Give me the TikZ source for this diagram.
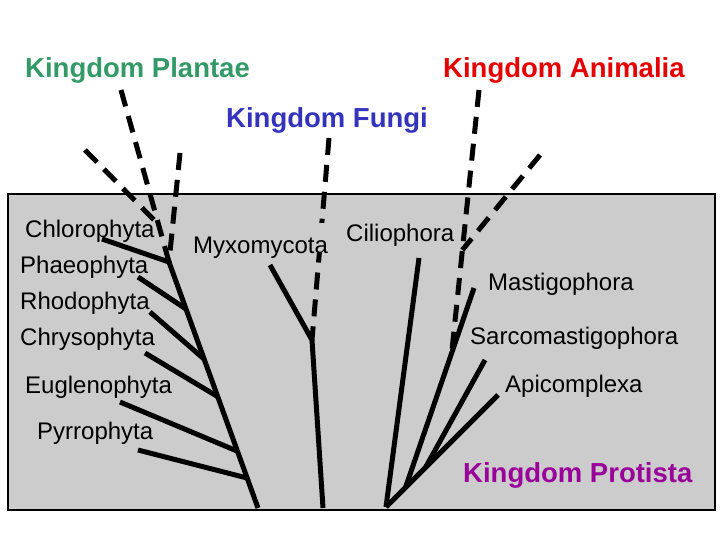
\documentclass[tikz,border=0pt]{standalone}
\usepackage{fontspec}
\setmainfont{Liberation Sans}
\definecolor{plantgreen}{RGB}{51,153,102}
\definecolor{animred}{RGB}{228,0,0}
\definecolor{fungiblue}{RGB}{51,51,187}
\definecolor{protpurple}{RGB}{153,0,153}
\definecolor{boxgray}{RGB}{204,204,204}
\begin{document}
\begin{tikzpicture}[x=1pt,y=-1pt,
  lbl/.style={anchor=base west,inner sep=0pt,font=\fontsize{24}{28}\selectfont},
  kingdom/.style={anchor=base west,inner sep=0pt,font=\fontsize{27.5}{32}\selectfont\bfseries},
  solidln/.style={line width=5pt},
  dashln/.style={line width=5pt,dash pattern=on 17pt off 10pt}]
\useasboundingbox (0,0) rectangle (720,540);
\node[draw=black,line width=2pt,fill=boxgray,minimum width=707pt,minimum height=316pt,
      anchor=north west,inner sep=0pt] (box) at (7,193) {};

% ---- coordinates: Plantae group
\coordinate (pT) at (121,90);
\coordinate (pD) at (85,150);
\coordinate (pJ) at (159,225);
\coordinate (pR) at (180,153);
\coordinate (P)  at (169,262);
\coordinate (pB) at (258,508);
\coordinate (chlS) at (102,239);
\coordinate (phaS) at (138,277);  \coordinate (phaE) at (186,309);
\coordinate (rhoS) at (150,312);  \coordinate (rhoE) at (204,359);
\coordinate (chrS) at (145,353);  \coordinate (chrE) at (217.5,396.5);
\coordinate (eugS) at (120,402);  \coordinate (eugE) at (237,451);
\coordinate (pyrS) at (138,450);  \coordinate (pyrE) at (247,478);
% ---- Fungi group
\coordinate (fT) at (329,138);
\coordinate (F)  at (312,340);
\coordinate (fB) at (323,508);
\coordinate (myxS) at (270,265);
% ---- Protista / Animalia group
\coordinate (R)   at (386,507);
\coordinate (ciS) at (419,258);
\coordinate (apS) at (498,395);
\coordinate (maS) at (474,288);
\coordinate (J1)  at (405.5,487.5);
\coordinate (saS) at (485,360);
\coordinate (J2)  at (425.5,467.5);
\coordinate (aT)  at (479,90);
\coordinate (aE)  at (451.7,353);
\coordinate (aD)  at (540,155);
\coordinate (aJ)  at (462.3,250);

% ---- Plantae lines
\draw[dashln] (pT) -- (P);
\draw[dashln] (pD) -- (pJ);
\draw[dashln] (pR) -- (P);
\draw[solidln] (P) -- (pB);
\draw[solidln] (chlS) -- (P);
\draw[solidln] (phaS) -- (phaE);
\draw[solidln] (rhoS) -- (rhoE);
\draw[solidln] (chrS) -- (chrE);
\draw[solidln] (eugS) -- (eugE);
\draw[solidln] (pyrS) -- (pyrE);
% ---- Fungi lines
\draw[dashln] (fT) -- (F);
\draw[solidln] (myxS) -- (F);
\draw[solidln] (F) -- (fB);
% ---- Protista / Animalia lines
\draw[solidln] (ciS) -- (R);
\draw[solidln] (apS) -- (R);
\draw[solidln] (maS) -- (J1);
\draw[solidln] (saS) -- (J2);
\draw[dashln] (aT) -- (aE);
\draw[dashln] (aD) -- (aJ);

% ---- labels
\node[kingdom,text=plantgreen] (plantae) at (25,78) {Kingdom Plantae};
\node[kingdom,text=animred] (animalia) at (443,78) {Kingdom Animalia};
\node[kingdom,text=fungiblue] (fungi) at (226,128) {Kingdom Fungi};
\node[kingdom,text=protpurple] (protista) at (463,482) {Kingdom Protista};

\node[lbl] (chl) at (25,237) {Chlorophyta};
\node[lbl] (pha) at (20,273) {Phaeophyta};
\node[lbl] (rho) at (20,309) {Rhodophyta};
\node[lbl] (chr) at (20,345) {Chrysophyta};
\node[lbl] (eug) at (25,393) {Euglenophyta};
\node[lbl] (pyr) at (37,439) {Pyrrophyta};
\node[lbl,fill=boxgray,text height=30pt,text depth=0pt] (myx) at (193,253) {Myxomycota};
\node[lbl] (cil) at (346,241) {Ciliophora};
\node[lbl] (mas) at (488,290) {Mastigophora};
\node[lbl] (sar) at (470,344) {Sarcomastigophora};
\node[lbl] (api) at (505,392) {Apicomplexa};
\end{tikzpicture}
\end{document}
